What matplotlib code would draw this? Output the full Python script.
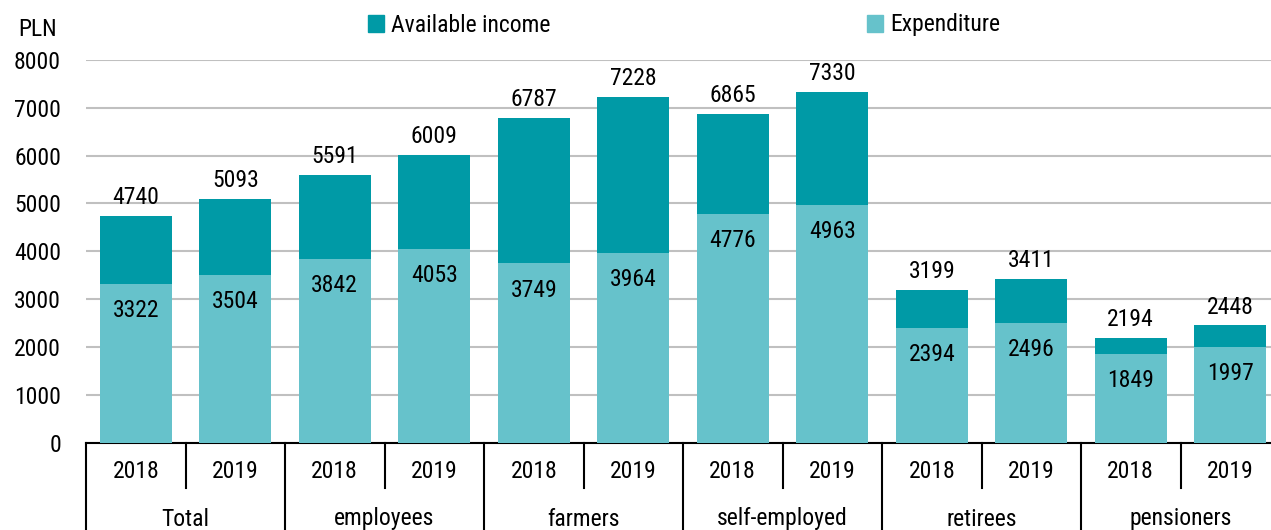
import matplotlib
matplotlib.use("Agg")
import matplotlib.pyplot as plt
from matplotlib import font_manager
from matplotlib.patches import Patch
import numpy as np

# Dane: dochód rozporządzalny i wydatki na osobę (PLN)
groups = ["Total", "employees", "farmers", "self-employed", "retirees", "pensioners"]
years = ["2018", "2019"]
income = [4740, 5093, 5591, 6009, 6787, 7228, 6865, 7330, 3199, 3411, 2194, 2448]
expenditure = [3322, 3504, 3842, 4053, 3749, 3964, 4776, 4963, 2394, 2496, 1849, 1997]

DARK = "#009AA6"
LIGHT = "#66C2CB"

names = {f.name for f in font_manager.fontManager.ttflist}
fam = [f for f in ["Roboto Condensed", "Liberation Sans Narrow", "Open Sans"] if f in names]
plt.rcParams["font.family"] = fam + ["DejaVu Sans"]

fig = plt.figure(figsize=(12.71, 5.30), dpi=100)
ax = fig.add_axes([86 / 1271, 1 - 442.5 / 530, 1194 / 1271, 382.5 / 530])

x = np.arange(len(income))
w = 0.72
ax.bar(x, income, width=w, color=DARK, zorder=2)
ax.bar(x, expenditure, width=w, color=LIGHT, zorder=3)

fs = 17
for xi, tot, exp in zip(x, income, expenditure):
    ax.annotate(str(tot), (xi, tot), xytext=(0, 5), textcoords="offset points",
                ha="center", va="bottom", fontsize=fs)
    ax.annotate(str(exp), (xi, exp), xytext=(0, -11), textcoords="offset points",
                ha="center", va="top", fontsize=fs, zorder=4)

ax.set_xlim(-0.5, len(income) - 0.5)
ax.set_ylim(0, 8000)
ax.set_yticks(range(0, 8001, 1000))
ax.tick_params(axis="y", length=0, labelsize=fs, pad=18)
ax.set_xticks([])
ax.yaxis.grid(True, color="#C0C0C0", linewidth=1.5, zorder=0)
ax.set_axisbelow(True)
for s in ["left", "right", "top"]:
    ax.spines[s].set_visible(False)
ax.spines["bottom"].set_linewidth(1.5)

# Dwupoziomowa oś kategorii
trans = ax.get_xaxis_transform()
for i in range(len(income) + 1):
    xs = i - 0.5
    bottom = -0.23 if i % 2 == 0 else -0.119
    ax.plot([xs, xs], [0, bottom], color="black", lw=1.5, transform=trans, clip_on=False)
for i, xi in enumerate(x):
    ax.text(xi, -0.077, years[i % 2], transform=trans, ha="center", va="center", fontsize=fs)
for g, name in enumerate(groups):
    ax.text(2 * g + 0.5, -0.2, name, transform=trans, ha="center", va="center", fontsize=fs)

fig.text(38 / 1271, 1 - 30 / 530, "PLN", ha="center", va="center", fontsize=fs)

handles = [Patch(color=DARK, label="Available income"), Patch(color=LIGHT, label="Expenditure")]
fig.legend(handles=handles, loc="center", bbox_to_anchor=(684 / 1271, 1 - 25 / 530), ncol=2,
           frameon=False, fontsize=fs, handlelength=0.7, handleheight=0.7,
           handletextpad=0.3, columnspacing=13.4)

fig.savefig("out.png", dpi=100)
